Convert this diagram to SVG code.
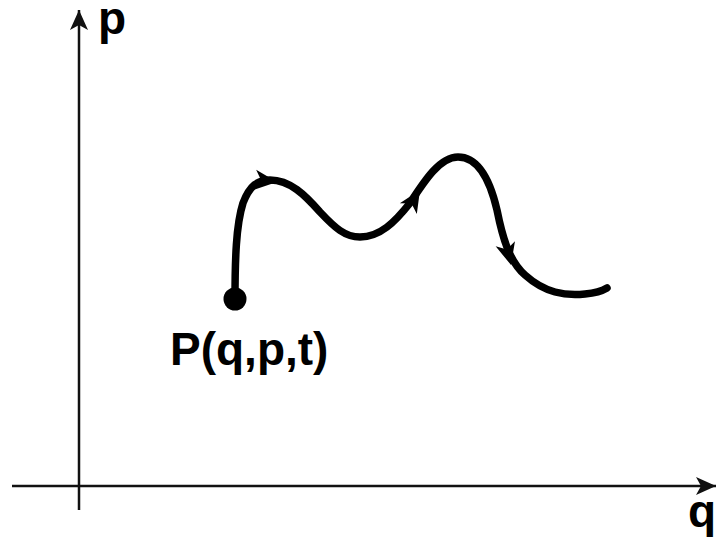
<svg xmlns="http://www.w3.org/2000/svg" xmlns:xlink="http://www.w3.org/1999/xlink" width="716" height="539" viewBox="0 0 716 539">
<style>
.axis{stroke:#111;stroke-width:2.5;fill:none}
.curve{stroke:#000;stroke-width:7.5;fill:none;stroke-linecap:round;stroke-linejoin:round}
.lbl{font-family:"Liberation Sans",Arial,sans-serif;font-weight:bold;font-size:46px;fill:#000}
</style>
<defs>
<path id="ah" d="M0,0 L-22,-10 L-16,0 L-22,10 Z" fill="#000"/>
<marker id="axhead" markerWidth="20" markerHeight="18" refX="20" refY="9" orient="auto" markerUnits="userSpaceOnUse">
<path d="M0,0 L20,9 L0,18 L5,9 Z" fill="#111"/>
</marker>
</defs>
<g id="connectors">
<line class="axis" x1="79" y1="510" x2="79" y2="10" marker-end="url(#axhead)"/>
<line class="axis" x1="12" y1="486" x2="716" y2="486" marker-end="url(#axhead)"/>
</g>
<g id="trajectory">
<path class="curve" d="M235,300 C235,260 236,225 243,203 C250,185 258,180 270,180 C290,180 305,195 320,212 C335,228 345,237 360,237 C380,237 395,222 410,203 C425,180 440,157 458,157 C478,157 490,180 497,210 C503,240 510,262 525,275 C545,293 565,296 585,294 C595,293 602,291 607,288"/>
<use xlink:href="#ah" transform="translate(277,182) rotate(6)"/>
<use xlink:href="#ah" transform="translate(420,190) rotate(-58)"/>
<use xlink:href="#ah" transform="translate(511,265) rotate(75)"/>
</g>
<g id="point">
<circle cx="235" cy="299" r="11.5" fill="#000"/>
<text class="lbl" x="170" y="365">P(q,p,t)</text>
</g>
<g id="labels">
<text class="lbl" x="98" y="34">p</text>
<text class="lbl" x="688" y="527">q</text>
</g>
</svg>
